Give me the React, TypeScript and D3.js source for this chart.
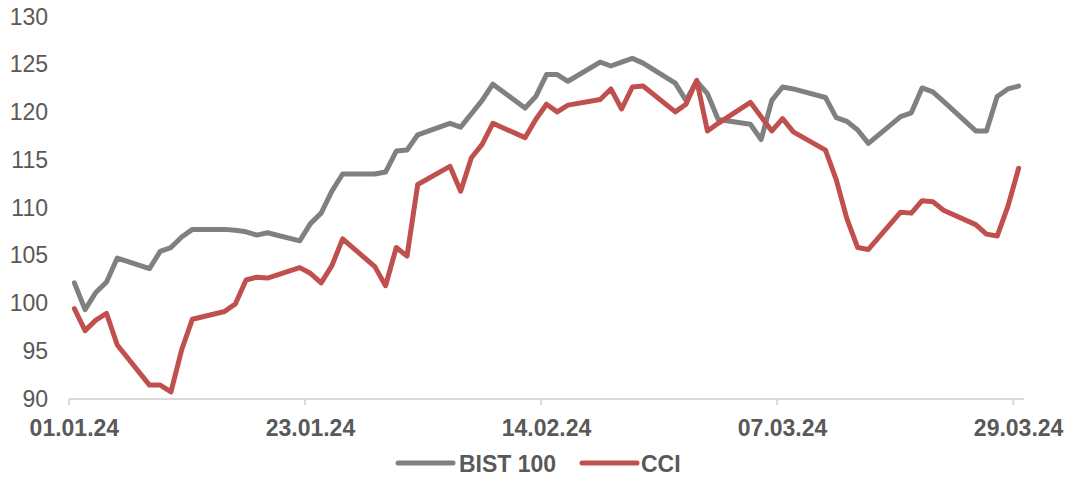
import React from 'react';
import * as d3 from 'd3';

const dates = [
  '2024-01-01', '2024-01-02', '2024-01-03', '2024-01-04', '2024-01-05',
  '2024-01-08', '2024-01-09', '2024-01-10', '2024-01-11', '2024-01-12',
  '2024-01-15', '2024-01-16', '2024-01-17', '2024-01-18', '2024-01-19',
  '2024-01-22', '2024-01-23', '2024-01-24', '2024-01-25', '2024-01-26',
  '2024-01-29', '2024-01-30', '2024-01-31', '2024-02-01', '2024-02-02',
  '2024-02-05', '2024-02-06', '2024-02-07', '2024-02-08', '2024-02-09',
  '2024-02-12', '2024-02-13', '2024-02-14', '2024-02-15', '2024-02-16',
  '2024-02-19', '2024-02-20', '2024-02-21', '2024-02-22', '2024-02-23',
  '2024-02-26', '2024-02-27', '2024-02-28', '2024-02-29', '2024-03-01',
  '2024-03-04', '2024-03-05', '2024-03-06', '2024-03-07', '2024-03-08',
  '2024-03-11', '2024-03-12', '2024-03-13', '2024-03-14', '2024-03-15',
  '2024-03-18', '2024-03-19', '2024-03-20', '2024-03-21', '2024-03-22',
  '2024-03-25', '2024-03-26', '2024-03-27', '2024-03-28', '2024-03-29',
];

const bist100 = [
  102.1, 99.3, 101.1, 102.2, 104.7,
  103.6, 105.4, 105.8, 106.9, 107.7,
  107.7, 107.6, 107.45, 107.1, 107.35,
  106.5, 108.3, 109.4, 111.7, 113.5,
  113.5, 113.7, 115.9, 116.0, 117.6,
  118.8, 118.4, 119.8, 121.2, 122.9,
  120.4, 121.6, 123.9, 123.9, 123.2,
  125.2, 124.8, 125.2, 125.6, 125.1,
  123.0, 121.2, 123.2, 121.9, 119.2,
  118.7, 117.1, 121.2, 122.6, 122.4,
  121.5, 119.4, 119.0, 118.1, 116.7,
  119.5, 119.9, 122.5, 122.1, 121.1,
  118.0, 118.0, 121.6, 122.4, 122.7,
];

const cci = [
  99.4, 97.1, 98.2, 98.9, 95.6,
  91.4, 91.4, 90.7, 95.1, 98.3,
  99.1, 99.9, 102.4, 102.7, 102.6,
  103.7, 103.1, 102.1, 103.9, 106.7,
  103.8, 101.8, 105.8, 104.9, 112.4,
  114.3, 111.7, 115.2, 116.6, 118.8,
  117.3, 119.2, 120.8, 120.0, 120.7,
  121.3, 122.4, 120.3, 122.6, 122.7,
  120.0, 120.8, 123.3, 118.0, 118.8,
  121.0, 119.5, 118.0, 119.3, 117.9,
  116.0, 112.9, 108.8, 105.8, 105.6,
  109.5, 109.4, 110.7, 110.6, 109.7,
  108.2, 107.2, 107.0, 110.1, 114.1,
];

const xTickDates = ['2024-01-01', '2024-01-23', '2024-02-14', '2024-03-07', '2024-03-29'];
const yTicks = [90, 95, 100, 105, 110, 115, 120, 125, 130];

const seriesNames = ['BIST 100', 'CCI'];
const seriesColors = ['#808080', '#c0504d'];

const W = 1072;
const H = 479;
const FONT = 'Arial, "Liberation Sans", sans-serif';
const TEXT = '#595959';

const parse = (s: string) => new Date(s + 'T00:00:00Z');
const HALF_DAY = 12 * 3600 * 1000;

export default function App() {
  const x = d3.scaleUtc()
    .domain([parse('2024-01-01'), parse('2024-03-30')])
    .range([69, 1024]);
  const y = d3.scaleLinear().domain([90, 130]).range([398.5, 16.3]);

  const xPos = (s: string) => x(new Date(parse(s).getTime() + HALF_DAY));

  const line = d3.line<number>()
    .x((_, i) => xPos(dates[i]))
    .y((v) => y(v));

  const series = [bist100, cci];
  const legend = [
    { x0: 398, x1: 453, tx: 459 },
    { x0: 582, x1: 637, tx: 641 },
  ];

  return (
    <svg
      width={W}
      height={H}
      style={{ position: 'absolute', left: 0, top: 0, background: '#fff' }}
      fontFamily={FONT}
    >
      {/* y labels */}
      {yTicks.map((t) => (
        <text key={t} x={48} y={y(t)} dy="0.36em" textAnchor="end" fontSize={23} fill={TEXT}>
          {t}
        </text>
      ))}

      {/* x axis */}
      <line x1={69} x2={1024} y1={399} y2={399} stroke="#d9d9d9" strokeWidth={2} />
      {xTickDates.map((d) => (
        <g key={d}>
          <line x1={x(parse(d))} x2={x(parse(d))} y1={399} y2={405} stroke="#d9d9d9" strokeWidth={2} />
          <text x={xPos(d)} y={435.5} textAnchor="middle" fontSize={23} fontWeight="bold" fill={TEXT}>
            {`${d.slice(8, 10)}.${d.slice(5, 7)}.${d.slice(2, 4)}`}
          </text>
        </g>
      ))}

      {/* series */}
      {series.map((vals, i) => (
        <path
          key={seriesNames[i]}
          d={line(vals) || ''}
          fill="none"
          stroke={seriesColors[i]}
          strokeWidth={5}
          strokeLinejoin="round"
          strokeLinecap="round"
        />
      ))}

      {/* legend */}
      {legend.map((l, i) => (
        <g key={seriesNames[i]}>
          <line x1={l.x0} x2={l.x1} y1={463} y2={463} stroke={seriesColors[i]} strokeWidth={5} strokeLinecap="round" />
          <text x={l.tx} y={471.5} fontSize={23} fontWeight="bold" fill={TEXT}>
            {seriesNames[i]}
          </text>
        </g>
      ))}
    </svg>
  );
}
